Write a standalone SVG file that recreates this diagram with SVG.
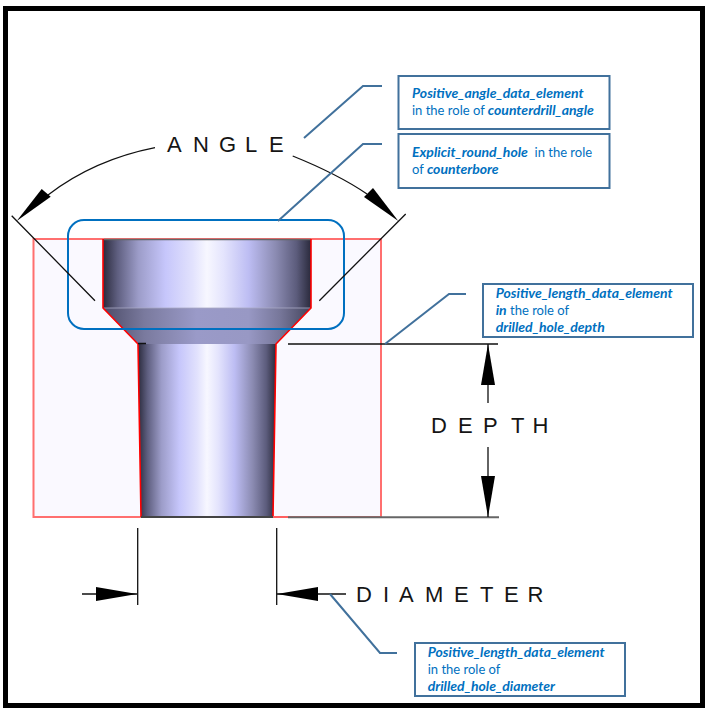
<svg xmlns="http://www.w3.org/2000/svg" width="711" height="712" viewBox="0 0 711 712">
<style>
.dim{font-family:"Liberation Sans",Arial,sans-serif;font-size:22px;fill:#151515}
.lbl{font-family:Lato,"Open Sans",sans-serif;font-size:13px;fill:#0070c0;white-space:pre}
.b{font-weight:700;font-style:italic;font-size:14px}
.box{fill:#fff;stroke:#41719c;stroke-width:2}
.lead{fill:none;stroke:#41719c;stroke-width:2}
.thin{fill:none;stroke:#111;stroke-width:1.3}
.head{fill:#000;stroke:none}
</style>
<defs>
<linearGradient id="cyl" x1="0" y1="0" x2="1" y2="0">
<stop offset="0" stop-color="#2b2b3d"/><stop offset=".07" stop-color="#5f5f80"/><stop offset=".17" stop-color="#9c9cc8"/><stop offset=".3" stop-color="#c6c6fb"/><stop offset=".43" stop-color="#e2e2fd"/><stop offset=".5" stop-color="#f7f7ff"/><stop offset=".58" stop-color="#e4e4fd"/><stop offset=".7" stop-color="#bdbdf3"/><stop offset=".83" stop-color="#8b8bb2"/><stop offset=".93" stop-color="#5c5c7c"/><stop offset="1" stop-color="#2a2a3c"/>
</linearGradient>
<linearGradient id="cone" x1="0" y1="0" x2="1" y2="0">
<stop offset="0" stop-color="#4c4c68"/><stop offset=".2" stop-color="#7a7a9e"/><stop offset=".45" stop-color="#9a9ac8"/><stop offset=".7" stop-color="#9898c4"/><stop offset=".85" stop-color="#77779a"/><stop offset="1" stop-color="#44445c"/>
</linearGradient>
</defs>
<rect x="0" y="0" width="711" height="712" fill="#fff"/>
<rect id="frame" x="5.500" y="8.500" width="697" height="697" fill="none" stroke="#000" stroke-width="5"/>

<g id="block">
<rect x="33.500" y="239" width="347.500" height="278" fill="#faf9ff" stroke="#ff6f6f" stroke-width="2"/>
</g>
<g id="hole">
<path d="M103 239H311V308H103Z" fill="url(#cyl)"/>
<path d="M103 308H311L276 344H138Z" fill="url(#cone)"/>
<path d="M138 344H276L273 517H141Z" fill="url(#cyl)"/>
<path d="M104 239.500H311" fill="none" stroke="#666" stroke-width="1.500"/>
<path d="M104 308H310" fill="none" stroke="#a8a8c4" stroke-width=".8"/>
<path d="M103 239V308L138 344L141 517M311 239V308L276 344L273 517" fill="none" stroke="#f00" stroke-width="1.600"/>
<path d="M141 517H273" fill="none" stroke="#444" stroke-width="2"/>
<path d="M273 517H288" fill="none" stroke="#ff6060" stroke-width="2"/>
</g>
<g id="counterbore-outline">
<rect x="68" y="220" width="276" height="109" rx="16" fill="none" stroke="#0070c0" stroke-width="2"/>
</g>

<g id="connectors">
<path class="thin" d="M155 147.700C118 155 82 169 48 195"/>
<path class="thin" d="M292.700 156C320 167 345 179 367 194"/>
<path class="thin" d="M11.700 215.700L95 300.700M405.700 214L319.300 300.700"/>
<path class="thin" d="M138 343.500H146M288 344H498"/>
<path d="M288 517.300H499" fill="none" stroke="#666" stroke-width="2"/>
<path class="thin" d="M488 344V403M488 447V517"/>
<path class="thin" d="M137.700 528V605M276.700 528V605M82 594H137M277 594H346"/>
<path class="head" d="M16.700 221L41.700 189L50.700 196.700Z"/>
<path class="head" d="M398.300 221L373 188L364 197Z"/>
<path class="head" d="M488 344L495 385H481Z"/>
<path class="head" d="M488 517L495 476H481Z"/>
<path class="head" d="M137 594L96 587V601Z"/>
<path class="head" d="M277 594L318 587V601Z"/>
<path class="lead" d="M304 138L363 86H382"/>
<path class="lead" d="M278 221L363 144H382"/>
<path class="lead" d="M385 344L449 294H466"/>
<path class="lead" d="M330 594L380 653H397"/>
</g>

<g id="dim-angle"><text class="dim" x="167 193 219 245 269" y="151.500">ANGLE</text></g>
<g id="dim-depth"><text class="dim" x="431 458 483 511 532.500" y="432.700">DEPTH</text></g>
<g id="dim-diameter"><text class="dim" x="356 383 399 425 454 480 504 527.500" y="601.700">DIAMETER</text></g>

<g id="note-angle">
<rect class="box" x="398.500" y="76" width="211" height="53"/>
<text class="lbl" x="412" y="97.500"><tspan class="b">Positive_angle_data_element</tspan></text>
<text class="lbl" x="412" y="114.500">in the role of <tspan class="b">counterdrill_angle</tspan></text>
</g>
<g id="note-counterbore">
<rect class="box" x="398.500" y="134" width="211" height="54"/>
<text class="lbl" x="412" y="156.500"><tspan class="b">Explicit_round_hole</tspan>  in the role</text>
<text class="lbl" x="412" y="174">of <tspan class="b">counterbore</tspan></text>
</g>
<g id="note-depth">
<rect class="box" x="483" y="284" width="210" height="53"/>
<text class="lbl" x="495.700" y="298"><tspan class="b">Positive_length_data_element</tspan></text>
<text class="lbl" x="495.700" y="315"><tspan class="b">in</tspan> the role of</text>
<text class="lbl" x="495.700" y="332"><tspan class="b">drilled_hole_depth</tspan></text>
</g>
<g id="note-diameter">
<rect class="box" x="415" y="643" width="210" height="53"/>
<text class="lbl" x="427.700" y="656.700"><tspan class="b">Positive_length_data_element</tspan></text>
<text class="lbl" x="427.700" y="673.500">in the role of</text>
<text class="lbl" x="427.700" y="690.500"><tspan class="b">drilled_hole_diameter</tspan></text>
</g>
</svg>
